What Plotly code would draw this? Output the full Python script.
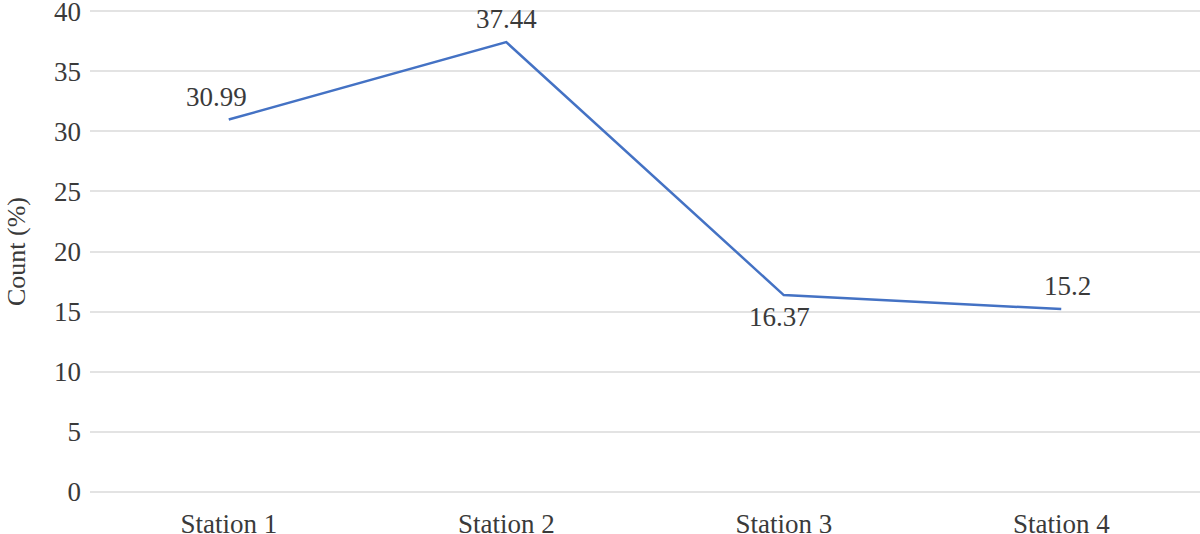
import plotly.graph_objects as go

stations = ["Station 1", "Station 2", "Station 3", "Station 4"]
count_pct = [30.99, 37.44, 16.37, 15.2]
label_above = [True, True, False, True]
label_xshift = [-12, 0, -4, 6]

y_ticks = [0, 5, 10, 15, 20, 25, 30, 35, 40]

fig = go.Figure(go.Scatter(
    x=stations,
    y=count_pct,
    mode="lines",
    line={'color': "#4472C4", 'width': 2.5},
    showlegend=False,
))

# data labels
for st, v, above, dx in zip(stations, count_pct, label_above, label_xshift):
    fig.add_annotation(
        x=st, y=v, text=str(v), showarrow=False,
        yanchor="bottom" if above else "top",
        yshift=6 if above else -5,
        xshift=dx,
        font={'size': 27, 'color': "#3a3a3a"},
    )

fig.update_layout(
    width=1200,
    height=534,
    paper_bgcolor="white",
    plot_bgcolor="white",
    font={'family': "Liberation Serif", 'color': "#3a3a3a", 'size': 27},
    margin=dict(l=90, r=0, t=9, b=40),
    xaxis=dict(
        range=[-0.5, 3.5],
        showgrid=False,
        showline=False,
        zeroline=False,
        ticks="",
        tickfont={'size': 27},
        ticklabelstandoff=11,
        automargin=False,
    ),
    yaxis=dict(
        title={'text': "Count (%)", 'font': {'size': 26}, 'standoff': 20},
        range=[-0.2, 40.2],
        tickvals=y_ticks,
        showgrid=True,
        gridcolor="#e3e3e3",
        gridwidth=2,
        zeroline=False,
        showline=False,
        ticks="",
        tickfont={'size': 27},
        ticklabelstandoff=8,
        ticklabeloverflow="allow",
        automargin=False,
    ),
)

fig.write_html("out.html", config={'displayModeBar': False},
               post_script="document.body.style.margin='0';")
